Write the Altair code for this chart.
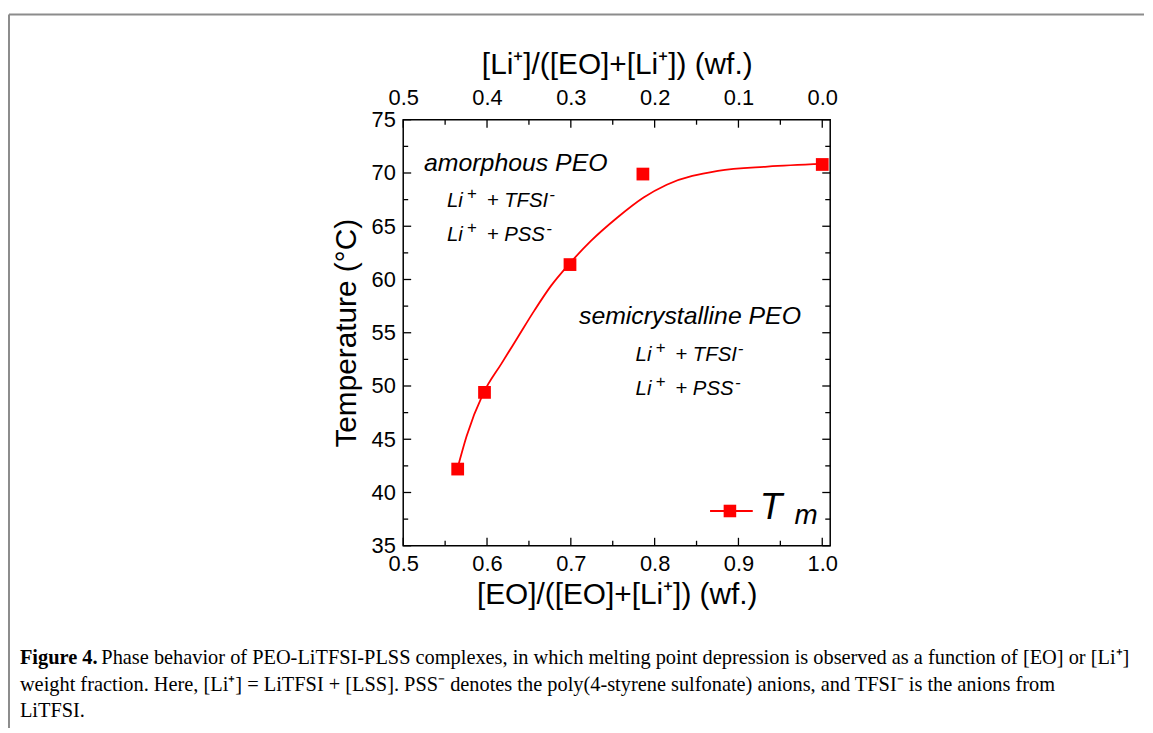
import altair as alt
import pandas as pd

# ---- data ----
eo_wf = [0.565, 0.597, 0.699, 0.786, 1.0]
tm_c = [42.2, 49.4, 61.4, 69.9, 70.8]

fit_x = [0.5639, 0.5757, 0.5955, 0.6172, 0.6369, 0.6566, 0.6763, 0.698, 0.7237, 0.7552,
         0.7868, 0.8144, 0.8755, 0.9347, 1.0]
fit_y = [42.0, 45.3, 49.3, 52.1, 54.6, 57.1, 59.4, 61.45, 63.6, 65.8,
         67.7, 68.9, 70.2, 70.6, 70.85]

x_major = [0.5, 0.6, 0.7, 0.8, 0.9, 1.0]
x_minor = [0.55, 0.65, 0.75, 0.85, 0.95]
y_major = [35, 40, 45, 50, 55, 60, 65, 70, 75]
y_minor = [37.5, 42.5, 47.5, 52.5, 57.5, 62.5, 67.5, 72.5]

caption_bold = "Figure 4."
caption_l1 = ("Phase behavior of PEO-LiTFSI-PLSS complexes, in which melting point depression "
              "is observed as a function of [EO] or [Li\u207a]")
caption_l2 = ("weight fraction. Here, [Li\u207a] = LiTFSI + [LSS]. PSS\u207b denotes the "
              "poly(4-styrene sulfonate) anions, and TFSI\u207b is the anions from")
caption_l3 = "LiTFSI."

RED = "#ff0000"
SANS = "Liberation Sans"
SERIF = "Liberation Serif"
W, H = 430, 429
XD = [0.5, 1.0095]
YD = [35, 75]

one = pd.DataFrame({"a": [0]})
df_pts = pd.DataFrame({"x": eo_wf, "y": tm_c})
df_fit = pd.DataFrame({"x": fit_x, "y": fit_y})


def xs():
    return alt.Scale(domain=XD, nice=False, zero=False)


def ys():
    return alt.Scale(domain=YD, nice=False, zero=False)


bottom_axis = alt.Axis(
    orient="bottom", values=x_major, format=".1f", ticks=False, tickSize=0, domain=False, grid=False,
    labelFont=SANS, labelFontSize=22, labelColor="black", labelPadding=25, labelBaseline="alphabetic",
    labelFlush=False,
    title="[EO]/([EO]+[Li\u207a]) (wf.)", titleFont=SANS, titleFontSize=30, titleFontWeight="normal",
    titleColor="black", titleY=58, titleBaseline="alphabetic")

top_axis = alt.Axis(
    orient="top", values=x_major, labelExpr="format(1 - datum.value, '.1f')", ticks=False, tickSize=0,
    domain=False, grid=False,
    labelFont=SANS, labelFontSize=22, labelColor="black", labelPadding=15, labelBaseline="alphabetic",
    labelFlush=False,
    title="[Li\u207a]/([EO]+[Li\u207a]) (wf.)", titleFont=SANS, titleFontSize=30, titleFontWeight="normal",
    titleColor="black", titleY=-47, titleBaseline="alphabetic")

left_axis = alt.Axis(
    orient="left", values=y_major, format="d", ticks=False, tickSize=0, domain=False, grid=False,
    labelFont=SANS, labelFontSize=22, labelColor="black", labelPadding=8, labelFlush=False,
    title="Temperature (\u00b0C)", titleFont=SANS, titleFontSize=30, titleFontWeight="normal",
    titleColor="black", titleX=-48, titleBaseline="alphabetic")


def xticks(vals, length, top, axis=None):
    y0 = 0 if top else H
    y1 = length if top else H - length
    return alt.Chart(pd.DataFrame({"v": vals})).mark_rule(color="black", strokeWidth=1.3).encode(
        x=alt.X("v:Q", scale=xs(), axis=axis),
        y=alt.value(y0), y2=alt.value(y1))


def yticks(vals, length, right):
    x0 = W if right else 0
    x1 = W - length if right else length
    return alt.Chart(pd.DataFrame({"v": vals})).mark_rule(color="black", strokeWidth=1.3).encode(
        y=alt.Y("v:Q", scale=ys(), axis=left_axis),
        x=alt.value(x0), x2=alt.value(x1))


layers = [
    xticks(x_major, 8, False, bottom_axis),
    xticks(x_minor, 5, False),
    xticks(x_major, 8, True, top_axis),
    xticks(x_minor, 5, True),
    yticks(y_major, 8, False),
    yticks(y_minor, 5, False),
    yticks(y_major, 8, True),
    yticks(y_minor, 5, True),
]

fit_line = alt.Chart(df_fit).mark_line(color=RED, strokeWidth=1.8, interpolate="monotone").encode(
    x=alt.X("x:Q", scale=xs(), axis=None), y=alt.Y("y:Q", scale=ys(), axis=left_axis))
pts = alt.Chart(df_pts).mark_square(color=RED, size=165, opacity=1).encode(
    x=alt.X("x:Q", scale=xs(), axis=None), y=alt.Y("y:Q", scale=ys(), axis=left_axis))
layers += [fit_line, pts]


def txt(s, x, y, size, style="italic", weight="normal", font=SANS, align="left", baseline="alphabetic"):
    return alt.Chart(one).mark_text(
        text=s, font=font, fontSize=size, fontStyle=style, fontWeight=weight, color="black",
        align=align, baseline=baseline).encode(x=alt.value(x), y=alt.value(y))


def ion_pair(x, y, anion, sup_dx):
    return [
        txt("Li", x, y, 20.5),
        txt("+", x + 20, y - 8, 17),
        txt("+ " + anion, x + 40, y, 20.5),
        txt("-", x + 40 + sup_dx, y - 7, 17),
    ]


layers += [
    txt("amorphous PEO", 21, 52, 25),
    txt("semicrystalline PEO", 177, 206, 25),
]
layers += ion_pair(44, 88, "TFSI", 63)
layers += ion_pair(44, 122, "PSS", 60)
layers += ion_pair(234, 243, "TFSI", 63)
layers += ion_pair(234, 277, "PSS", 60)

# legend entry
layers += [
    alt.Chart(one).mark_rule(color=RED, strokeWidth=1.8).encode(
        x=alt.value(309), x2=alt.value(352), y=alt.value(394)),
    alt.Chart(one).mark_square(color=RED, size=160, opacity=1).encode(
        x=alt.value(329), y=alt.value(394)),
    txt("T", 359, 402, 37),
    txt("m", 394, 407, 28),
]

# figure frame (top and left edges)
layers += [
    alt.Chart(one).mark_rule(color="#8c8c8c", strokeWidth=2).encode(
        x=alt.value(-397), x2=alt.value(746), y=alt.value(-106)),
    alt.Chart(one).mark_rule(color="#8c8c8c", strokeWidth=2).encode(
        x=alt.value(-397), y=alt.value(-106), y2=alt.value(620)),
]

# caption
layers += [
    txt(caption_bold, -386, 548, 20.5, style="normal", weight="bold", font=SERIF),
    txt(caption_l1, -304, 548, 20.5, style="normal", font=SERIF),
    txt(caption_l2, -386, 575, 20.5, style="normal", font=SERIF),
    txt(caption_l3, -386, 601, 20.5, style="normal", font=SERIF),
]

chart = alt.layer(*layers).resolve_scale(x="independent").properties(
    width=W, height=H,
    autosize=alt.AutoSizeParams(type="none"),
    padding={"left": 398, "top": 110, "right": 317, "bottom": 181},
).configure_view(stroke="black", strokeWidth=1.5)

chart.save("out.html", embed_options={"renderer": "svg", "actions": False})
